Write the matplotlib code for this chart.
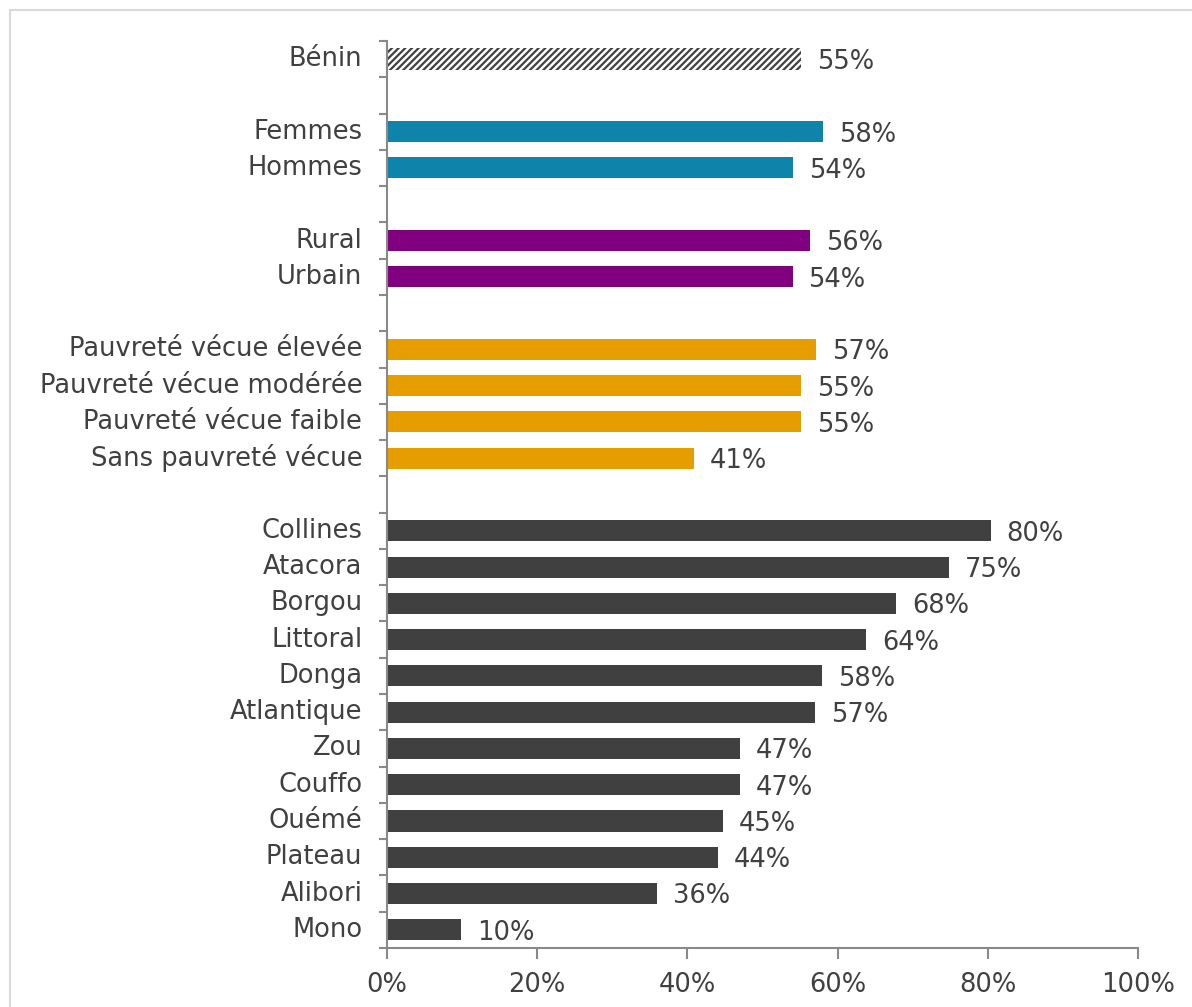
import matplotlib.pyplot as plt
from matplotlib.patches import Rectangle

# categories top to bottom, None = empty gap slot
labels = ["Bénin", None,
          "Femmes", "Hommes", None,
          "Rural", "Urbain", None,
          "Pauvreté vécue élevée", "Pauvreté vécue modérée",
          "Pauvreté vécue faible", "Sans pauvreté vécue", None,
          "Collines", "Atacora", "Borgou", "Littoral", "Donga", "Atlantique",
          "Zou", "Couffo", "Ouémé", "Plateau", "Alibori", "Mono"]
values = [55.1, None,
          58.1, 54.1, None,
          56.3, 54.0, None,
          57.1, 55.1, 55.1, 40.9, None,
          80.4, 74.8, 67.8, 63.8, 57.9, 57.0, 47.0, 47.0, 44.7, 44.1, 36.0, 9.9]
groups = ["total", None,
          "sexe", "sexe", None,
          "milieu", "milieu", None,
          "pauv", "pauv", "pauv", "pauv", None] + ["region"] * 12

colors = {"total": "white", "sexe": "#0E84AA", "milieu": "#800080",
          "pauv": "#E69D00", "region": "#404040"}
text_col = "#404040"
axis_col = "#898989"

plt.rcParams["font.family"] = ["DejaVu Sans"]
plt.rcParams["hatch.color"] = "#404040"
plt.rcParams["hatch.linewidth"] = 1.6

fig = plt.figure(figsize=(11.92, 10.07), dpi=100)
ax = fig.add_axes([0.3247, 0.0586, 0.63, 0.9007])

fig.patches.append(Rectangle((10 / 1192, -0.01), 1.2, 1 - 10 / 1007 + 0.01,
                             transform=fig.transFigure, fill=False,
                             edgecolor="#D9D9D9", linewidth=1.5))

for i, (lab, v, g) in enumerate(zip(labels, values, groups)):
    if v is None:
        continue
    if g == "total":
        ax.barh(i, v, height=0.6, color="white", edgecolor="#404040",
                hatch="/////", linewidth=0)
    else:
        ax.barh(i, v, height=0.58, color=colors[g])
    ax.text(v + 2.1, i + 0.08, f"{v:.0f}%", va="center", ha="left",
            fontsize=18.5, color=text_col)
    ax.text(-3.3, i, lab, va="center", ha="right", fontsize=18.5,
            color=text_col)

ax.set_ylim(len(labels) - 0.5, -0.5)
ax.set_xlim(0, 100)
ax.set_yticks([k - 0.5 for k in range(len(labels) + 1)])
ax.set_yticklabels([])
ax.set_xticks(range(0, 101, 20))
ax.set_xticklabels([f"{t}%" for t in range(0, 101, 20)])
ax.tick_params(axis="y", length=6, color=axis_col, width=1.5)
ax.tick_params(axis="x", length=8, color=axis_col, width=1.5,
               labelsize=18.5, labelcolor=text_col, pad=9)
for s in ["top", "right"]:
    ax.spines[s].set_visible(False)
for s in ["left", "bottom"]:
    ax.spines[s].set_color(axis_col)
    ax.spines[s].set_linewidth(1.5)

fig.savefig("out.png", dpi=100)
